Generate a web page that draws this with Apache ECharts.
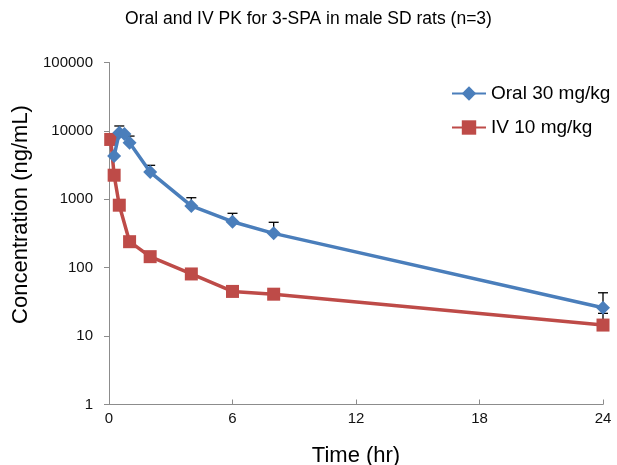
<!DOCTYPE html>
<html><head><meta charset="utf-8">
<script src="https://cdn.jsdelivr.net/npm/echarts@6/dist/echarts.min.js"></script>
<style>html,body{margin:0;padding:0;background:#fff}#c{width:617px;height:465px}</style>
</head><body><div id="c"></div>
<script>
var titleText = 'Oral and IV PK for 3-SPA in male SD rats (n=3)';
var xTicks = [0, 6, 12, 18, 24];
var yTicks = [1, 10, 100, 1000, 10000, 100000];
var oralName = 'Oral 30 mg/kg';
var ivName = 'IV 10 mg/kg';
var oralTime = [0.25, 0.5, 0.75, 1, 2, 4, 6, 8, 24];
var oralConc = [4300, 9400, 9000, 6700, 2500, 800, 470, 318, 26];
var oralUpper = [null, 11800, null, 8400, 3140, 1055, 624, 461, 43];
var ivTime = [0.083, 0.25, 0.5, 1, 2, 4, 6, 8, 24];
var ivConc = [7500, 2250, 820, 240, 145, 81, 45, 41, 14.5];
var ivUpper = [null, null, null, null, null, null, null, null, 21.5];

var FONT = 'Liberation Sans';
var blue = '#4A7EBB', red = '#BE4B48';

function pairs(t, v){ return t.map(function(x,i){ return [x, v[i]]; }); }
function errData(t, v, u){
  var out = [];
  t.forEach(function(x,i){ if(u[i]!=null) out.push([x, v[i], u[i]]); });
  return out;
}
function errRender(params, api){
  var x = api.value(0), lo = api.value(1), hi = api.value(2);
  var p0 = api.coord([x, lo]), p1 = api.coord([x, hi]);
  var cap = 5;
  var st = {stroke:'#000', lineWidth:1.3};
  return {type:'group', children:[
    {type:'line', shape:{x1:p0[0], y1:p0[1], x2:p1[0], y2:p1[1]}, style:st},
    {type:'line', shape:{x1:p1[0]-cap, y1:p1[1], x2:p1[0]+cap, y2:p1[1]}, style:st}
  ]};
}

var chart = echarts.init(document.getElementById('c'), null, {renderer:'canvas'});
chart.setOption({
  animation:false,
  backgroundColor:'#fff',
  title:{text:titleText, left:'center', top:5,
    textStyle:{fontFamily:FONT, fontSize:17.5, fontWeight:'normal', color:'#000'}},
  legend:{orient:'vertical', left:446, top:79, itemGap:15, itemWidth:34, itemHeight:18,
    data:[oralName, ivName],
    textStyle:{fontFamily:FONT, fontSize:19, color:'#000'}},
  grid:{left:109, right:14, top:62.5, bottom:60.5, containLabel:false, outerBoundsMode:'none'},
  xAxis:{type:'value', min:0, max:24, interval:6,
    name:'Time (hr)', nameLocation:'middle', nameGap:40,
    nameTextStyle:{fontFamily:FONT, fontSize:22, color:'#000'},
    axisLine:{show:true, lineStyle:{color:'#8c8c8c', width:1}},
    axisTick:{show:true, inside:true, length:5, lineStyle:{color:'#8c8c8c'}},
    axisLabel:{fontFamily:FONT, fontSize:15, color:'#111', margin:7,
      formatter:function(v){ return xTicks.indexOf(v)>=0 ? String(v) : ''; }},
    splitLine:{show:false}},
  yAxis:{type:'log', logBase:10, min:1, max:100000,
    name:'Concentration (ng/mL)', nameLocation:'middle', nameGap:66, nameRotate:90,
    nameTextStyle:{fontFamily:FONT, fontSize:22, color:'#000', padding:[0,0,0,38]},
    axisLine:{show:true, lineStyle:{color:'#8c8c8c', width:1}},
    axisTick:{show:true, inside:false, length:5, lineStyle:{color:'#8c8c8c'}},
    axisLabel:{fontFamily:FONT, fontSize:15, color:'#111', margin:16,
      formatter:function(v){ return yTicks.indexOf(Math.round(v))>=0 ? String(Math.round(v)) : ''; }},
    splitLine:{show:false}},
  series:[
    {name:'oralErr', type:'custom', renderItem:errRender, data:errData(oralTime, oralConc, oralUpper), z:1, silent:true},
    {name:'ivErr', type:'custom', renderItem:errRender, data:errData(ivTime, ivConc, ivUpper), z:1, silent:true},
    {name:oralName, type:'line', data:pairs(oralTime, oralConc), z:3,
      symbol:'diamond', symbolSize:[14,14], showAllSymbol:true,
      lineStyle:{color:blue, width:3.5}, itemStyle:{color:blue, borderWidth:0}},
    {name:ivName, type:'line', data:pairs(ivTime, ivConc), z:2,
      symbol:'rect', symbolSize:[13,13], showAllSymbol:true,
      lineStyle:{color:red, width:3.5}, itemStyle:{color:red, borderWidth:0}}
  ]
});
</script></body></html>
